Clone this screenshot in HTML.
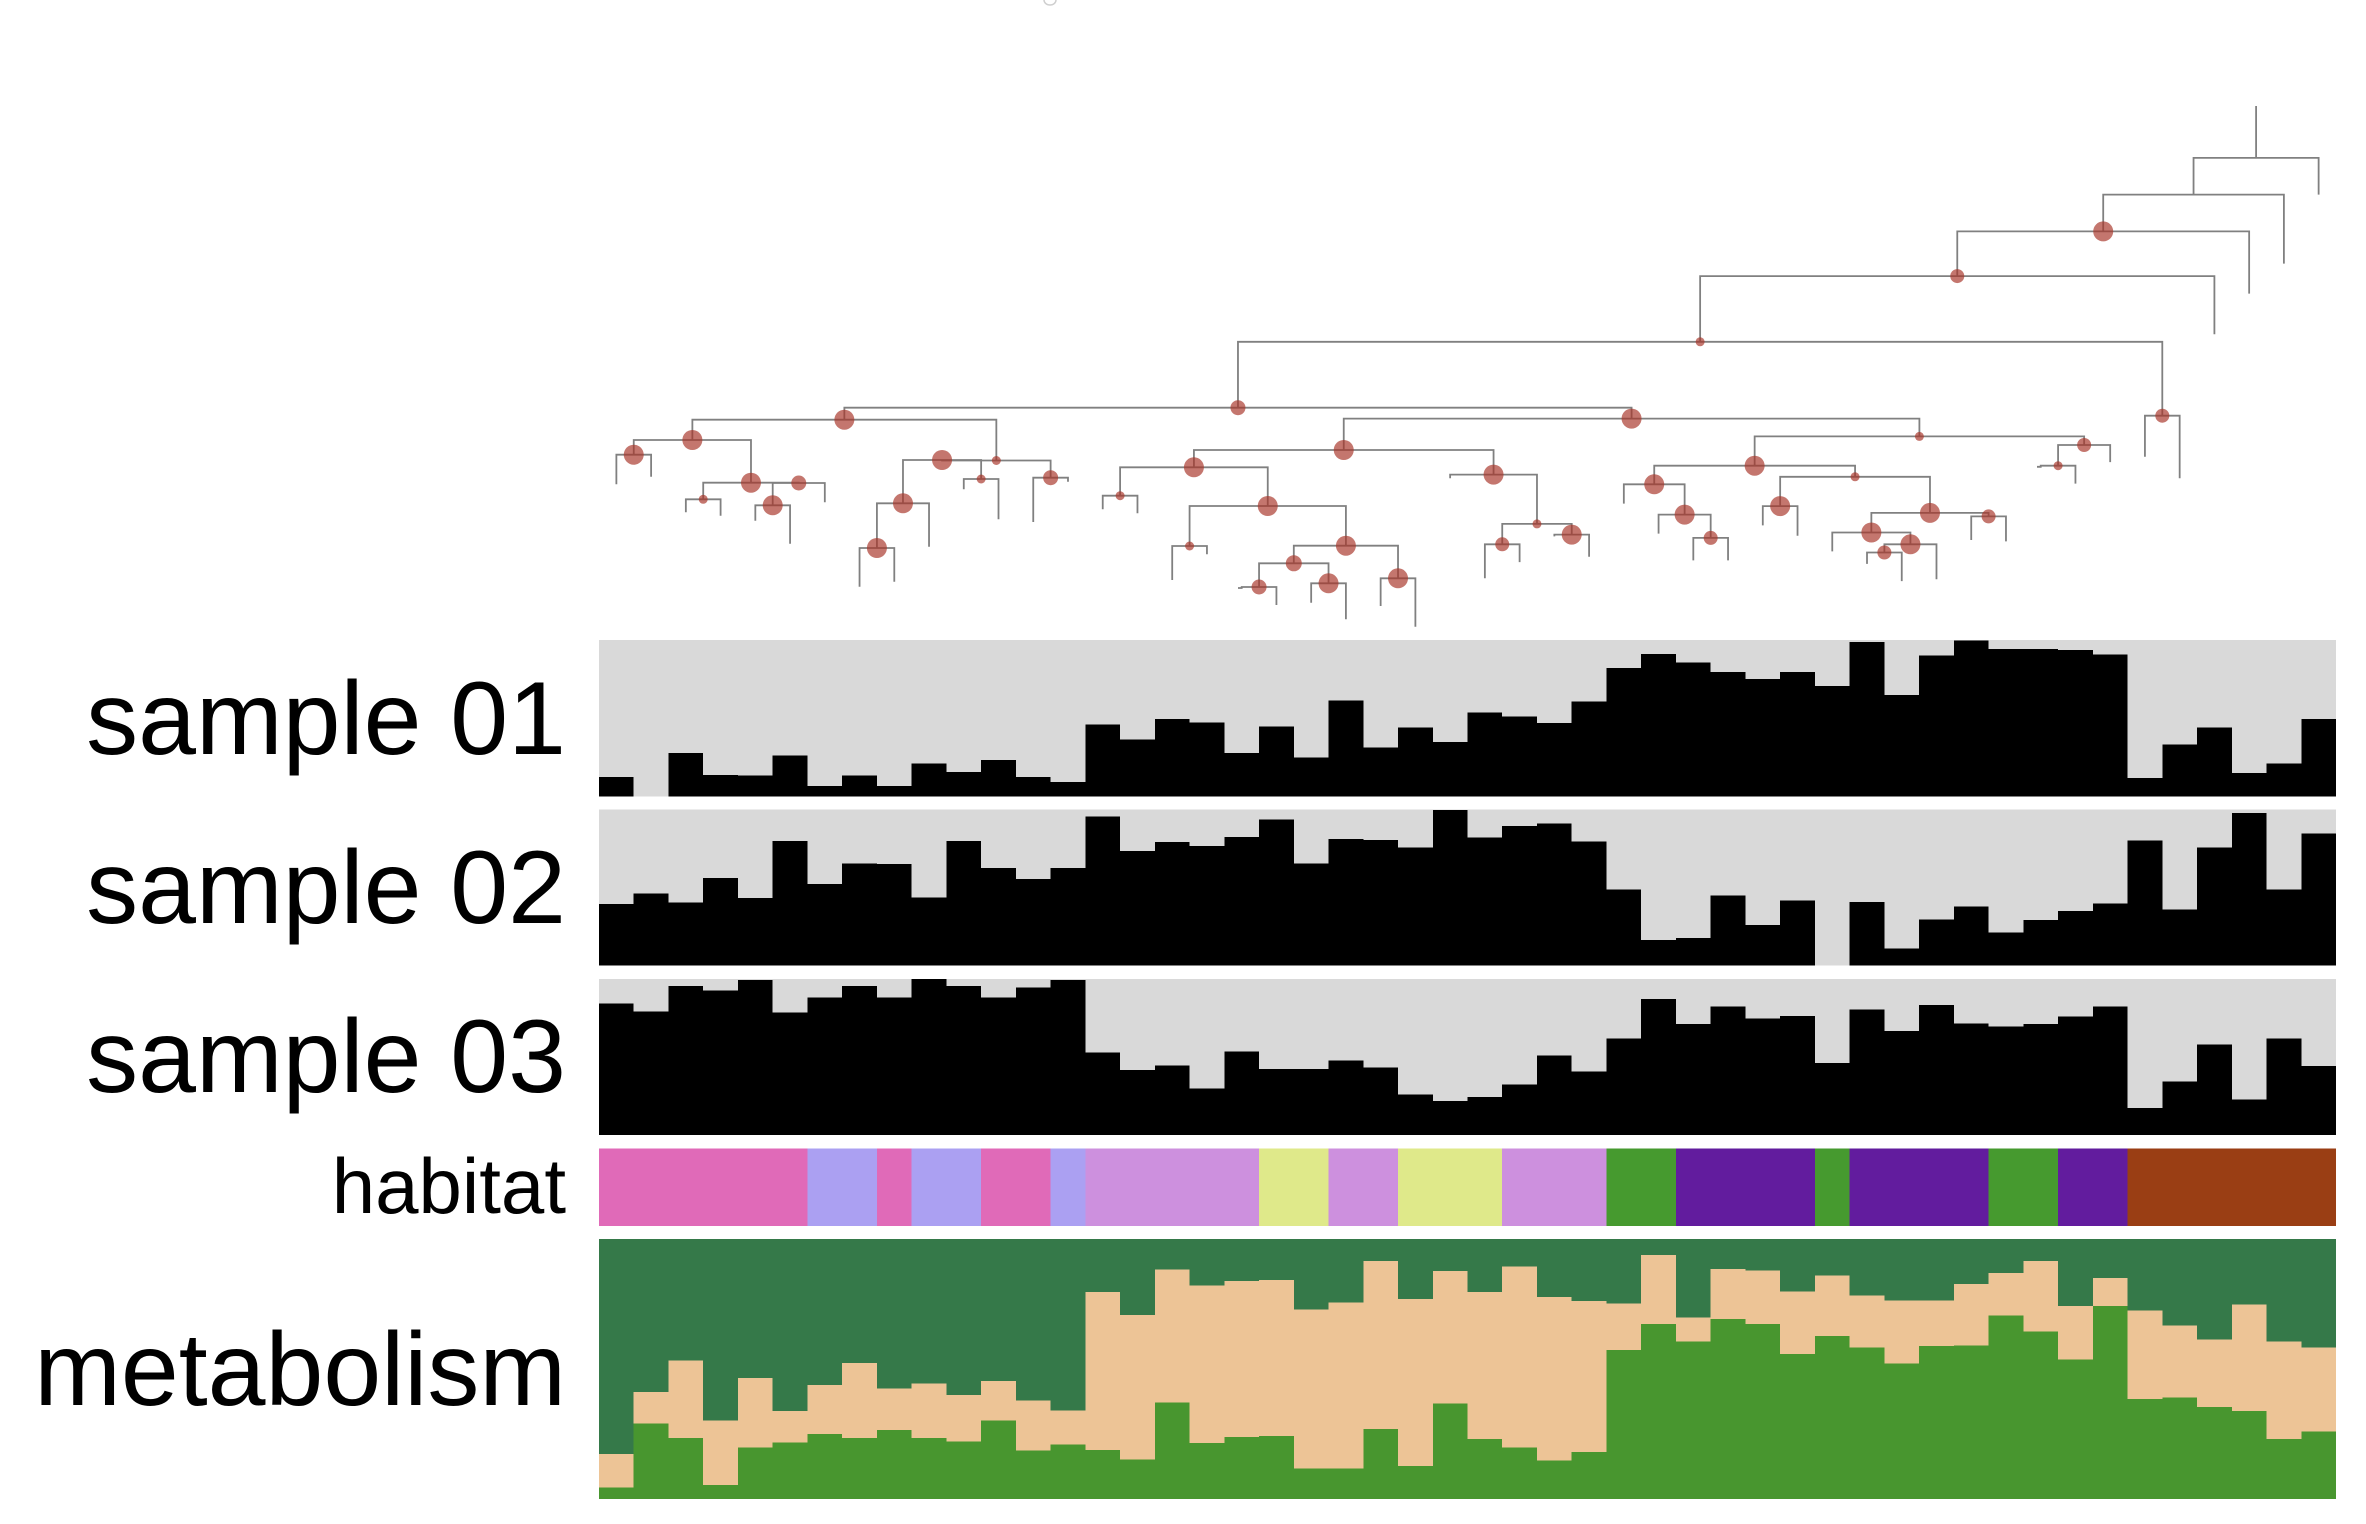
<!DOCTYPE html>
<html><head><meta charset="utf-8"><style>
html,body{margin:0;padding:0;background:#fff;}
svg{display:block;}
text{font-family:"Liberation Sans",Arial,sans-serif;fill:#000;}
</style></head><body>
<svg width="2366" height="1524" viewBox="0 0 2366 1524" xmlns="http://www.w3.org/2000/svg">
<rect x="0" y="0" width="2366" height="1524" fill="#fff"/>
<path d="M1044 0 A6 5 0 0 0 1056 0" fill="none" stroke="#cfcfcf" stroke-width="1.5"/>
<g fill="none" stroke="#808080" stroke-width="1.8">
<path d="M616.37 484.3 V454.7 H651.11 V476.7 M685.85 512.3 V499.3 H720.59 V515.7 M755.33 520.7 V505.3 H790.07 V543.7 M772.70 505.3 V483 H824.81 V502.3 M703.22 499.3 V482.7 H798.76 V483 M633.74 454.7 V440 H750.99 V482.7 M859.55 586.7 V548 H894.29 V581.7 M876.92 548 V503.3 H929.03 V546.7 M963.77 489.3 V479 H998.51 V519.3 M902.98 503.3 V460 H981.14 V479 M1033.25 522 V477.7 H1067.99 V481.7 M942.06 460 V460.5 H1050.62 V477.7 M692.37 440 V419.7 H996.34 V460.5 M1102.73 509.3 V495.7 H1137.47 V513.3 M1172.21 580 V546 H1206.95 V554.3 M1238 588 H1241.69 V587 H1276.43 V605 M1311.17 602.7 V583.3 H1345.91 V619.3 M1259.06 587 V563.3 H1328.54 V583.3 M1380.65 606 V578.3 H1415.39 V626.7 M1293.80 563.3 V545.7 H1398.02 V578.3 M1189.58 546 V506 H1345.91 V545.7 M1120.10 495.7 V467.3 H1267.75 V506 M1484.87 578.2 V544.3 H1519.61 V562.1 M1554.35 536.4 V534.6 H1589.09 V556.8 M1502.24 544.3 V523.9 H1571.72 V534.6 M1450.13 478.2 V474.6 H1536.98 V523.9 M1193.92 467.3 V450 H1493.56 V474.6 M1693.31 560.4 V537.9 H1728.05 V560.4 M1658.57 533.6 V514.6 H1710.68 V537.9 M1623.83 503.6 V484.3 H1684.63 V514.6 M1762.79 525.4 V506.1 H1797.53 V535.7 M1867.01 563.9 V552.5 H1901.75 V581.1 M1884.38 552.5 V544.3 H1936.49 V579.3 M1832.27 551.4 V532.5 H1910.44 V544.3 M1971.23 540 V516.4 H2005.97 V541.4 M1871.36 532.5 V512.9 H1988.60 V516.4 M1780.16 506.1 V476.8 H1929.98 V512.9 M1654.23 484.3 V465.7 H1855.07 V476.8 M2037 466.8 H2040.71 V465.7 H2075.45 V483.6 M2058.08 465.7 V445 H2110.19 V462.1 M1754.65 465.7 V436.4 H2084.14 V445 M1343.74 450 V418.6 H1919.40 V436.4 M844.36 419.7 V407.7 H1631.57 V418.6 M2144.93 456.8 V415.7 H2179.67 V478.2 M1237.97 407.7 V341.8 H2162.30 V415.7 M1700.13 341.8 V276.1 H2214.41 V334.3 M1957.27 276.1 V231.4 H2249.15 V293.6 M2103.21 231.4 V194.6 H2283.89 V263.6 M2193.55 194.6 V157.9 H2318.63 V194.6 M2256.09 157.9 V106"/>
</g>
<g fill="#a8352a" fill-opacity="0.68">
<circle cx="633.74" cy="454.7" r="10"/>
<circle cx="703.22" cy="499.3" r="4.5"/>
<circle cx="772.70" cy="505.3" r="10"/>
<circle cx="798.76" cy="483" r="7.5"/>
<circle cx="750.99" cy="482.7" r="10"/>
<circle cx="692.37" cy="440" r="10"/>
<circle cx="876.92" cy="548" r="10"/>
<circle cx="902.98" cy="503.3" r="10"/>
<circle cx="981.14" cy="479" r="4.5"/>
<circle cx="942.06" cy="460" r="10"/>
<circle cx="1050.62" cy="477.7" r="7.5"/>
<circle cx="996.34" cy="460.5" r="4.5"/>
<circle cx="844.36" cy="419.7" r="10"/>
<circle cx="1120.10" cy="495.7" r="4.5"/>
<circle cx="1189.58" cy="546" r="4.5"/>
<circle cx="1259.06" cy="587" r="7.5"/>
<circle cx="1328.54" cy="583.3" r="10"/>
<circle cx="1293.80" cy="563.3" r="8"/>
<circle cx="1398.02" cy="578.3" r="10"/>
<circle cx="1345.91" cy="545.7" r="10"/>
<circle cx="1267.75" cy="506" r="10"/>
<circle cx="1193.92" cy="467.3" r="10"/>
<circle cx="1502.24" cy="544.3" r="7"/>
<circle cx="1571.72" cy="534.6" r="10"/>
<circle cx="1536.98" cy="523.9" r="4.5"/>
<circle cx="1493.56" cy="474.6" r="10"/>
<circle cx="1343.74" cy="450" r="10"/>
<circle cx="1710.68" cy="537.9" r="7"/>
<circle cx="1684.63" cy="514.6" r="10"/>
<circle cx="1654.23" cy="484.3" r="10"/>
<circle cx="1780.16" cy="506.1" r="10"/>
<circle cx="1884.38" cy="552.5" r="7"/>
<circle cx="1910.44" cy="544.3" r="10"/>
<circle cx="1871.36" cy="532.5" r="10"/>
<circle cx="1988.60" cy="516.4" r="7"/>
<circle cx="1929.98" cy="512.9" r="10"/>
<circle cx="1855.07" cy="476.8" r="4.5"/>
<circle cx="1754.65" cy="465.7" r="10"/>
<circle cx="2058.08" cy="465.7" r="4.5"/>
<circle cx="2084.14" cy="445" r="7"/>
<circle cx="1919.40" cy="436.4" r="4.5"/>
<circle cx="1631.57" cy="418.6" r="10"/>
<circle cx="1237.97" cy="407.7" r="7.5"/>
<circle cx="2162.30" cy="415.7" r="7"/>
<circle cx="1700.13" cy="341.8" r="4.5"/>
<circle cx="1957.27" cy="276.1" r="7"/>
<circle cx="2103.21" cy="231.4" r="10"/>
</g>
<g transform="translate(599 630) scale(34.74 0.561167)" shape-rendering="crispEdges">
<rect x="0" y="18" width="50" height="279" fill="#d9d9d9"/>
<rect x="0" y="320" width="50" height="278" fill="#d9d9d9"/>
<rect x="0" y="622" width="50" height="278" fill="#d9d9d9"/>
<path fill="#000" d="M0 297 V262 H1 V297 H2 V219 H3 V258 H4 V259 H5 V224 H6 V278 H7 V259 H8 V278 H9 V238 H10 V253 H11 V232 H12 V262 H13 V271 H14 V168 H15 V195 H16 V159 H17 V165 H18 V219 H19 V172 H20 V227 H21 V126 H22 V209 H23 V174 H24 V200 H25 V147 H26 V154 H27 V166 H28 V127 H29 V68 H30 V43 H31 V58 H32 V75 H33 V87 H34 V75 H35 V100 H36 V21 H37 V116 H38 V45 H39 V19 H40 V34 H41 V34 H42 V36 H43 V44 H44 V264 H45 V204 H46 V174 H47 V255 H48 V238 H49 V159 H50 V297 Z"/>
<path fill="#000" d="M0 598 V488 H1 V470 H2 V486 H3 V442 H4 V478 H5 V376 H6 V453 H7 V416 H8 V417 H9 V477 H10 V376 H11 V424 H12 V444 H13 V424 H14 V332 H15 V394 H16 V378 H17 V385 H18 V369 H19 V338 H20 V416 H21 V372 H22 V374 H23 V388 H24 V321 H25 V370 H26 V349 H27 V345 H28 V377 H29 V462 H30 V552 H31 V549 H32 V473 H33 V526 H34 V482 H35 V598 H36 V485 H37 V568 H38 V516 H39 V493 H40 V539 H41 V517 H42 V501 H43 V487 H44 V375 H45 V498 H46 V388 H47 V326 H48 V462 H49 V363 H50 V598 Z"/>
<path fill="#000" d="M0 900 V666 H1 V680 H2 V634 H3 V642 H4 V624 H5 V682 H6 V655 H7 V634 H8 V655 H9 V622 H10 V634 H11 V655 H12 V637 H13 V624 H14 V753 H15 V784 H16 V776 H17 V817 H18 V751 H19 V782 H20 V782 H21 V767 H22 V780 H23 V828 H24 V839 H25 V832 H26 V810 H27 V758 H28 V787 H29 V728 H30 V658 H31 V702 H32 V671 H33 V692 H34 V688 H35 V772 H36 V676 H37 V715 H38 V668 H39 V701 H40 V707 H41 V702 H42 V689 H43 V671 H44 V852 H45 V805 H46 V739 H47 V837 H48 V728 H49 V777 H50 V900 Z"/>
<rect x="0" y="924" width="6" height="138" fill="#e06ab8"/>
<rect x="6" y="924" width="2" height="138" fill="#aba0f2"/>
<rect x="8" y="924" width="1" height="138" fill="#e06ab8"/>
<rect x="9" y="924" width="2" height="138" fill="#aba0f2"/>
<rect x="11" y="924" width="2" height="138" fill="#e06ab8"/>
<rect x="13" y="924" width="1" height="138" fill="#aba0f2"/>
<rect x="14" y="924" width="5" height="138" fill="#cd90de"/>
<rect x="19" y="924" width="2" height="138" fill="#dfe98a"/>
<rect x="21" y="924" width="2" height="138" fill="#cd90de"/>
<rect x="23" y="924" width="3" height="138" fill="#dfe98a"/>
<rect x="26" y="924" width="3" height="138" fill="#cd90de"/>
<rect x="29" y="924" width="2" height="138" fill="#469a2f"/>
<rect x="31" y="924" width="4" height="138" fill="#621c9e"/>
<rect x="35" y="924" width="1" height="138" fill="#469a2f"/>
<rect x="36" y="924" width="4" height="138" fill="#621c9e"/>
<rect x="40" y="924" width="2" height="138" fill="#469a2f"/>
<rect x="42" y="924" width="2" height="138" fill="#621c9e"/>
<rect x="44" y="924" width="6" height="138" fill="#9a3e14"/>
<rect x="0" y="1085" width="50" height="464" fill="#357949"/>
<path fill="#edc496" d="M0 1549 V1468 H1 V1358 H2 V1302 H3 V1409 H4 V1333 H5 V1392 H6 V1345 H7 V1306 H8 V1352 H9 V1343 H10 V1363 H11 V1338 H12 V1373 H13 V1391 H14 V1180 H15 V1221 H16 V1140 H17 V1168 H18 V1160 H19 V1158 H20 V1211 H21 V1198 H22 V1124 H23 V1192 H24 V1142 H25 V1180 H26 V1134 H27 V1189 H28 V1196 H29 V1200 H30 V1114 H31 V1225 H32 V1139 H33 V1141 H34 V1179 H35 V1150 H36 V1186 H37 V1195 H38 V1195 H39 V1165 H40 V1146 H41 V1124 H42 V1205 H43 V1155 H44 V1213 H45 V1239 H46 V1264 H47 V1202 H48 V1268 H49 V1279 H50 V1549 Z"/>
<path fill="#48962f" d="M0 1549 V1528 H1 V1414 H2 V1440 H3 V1524 H4 V1457 H5 V1448 H6 V1433 H7 V1440 H8 V1426 H9 V1440 H10 V1446 H11 V1409 H12 V1462 H13 V1451 H14 V1461 H15 V1478 H16 V1377 H17 V1449 H18 V1438 H19 V1436 H20 V1494 H21 V1494 H22 V1424 H23 V1490 H24 V1378 H25 V1442 H26 V1457 H27 V1480 H28 V1465 H29 V1283 H30 V1237 H31 V1268 H32 V1228 H33 V1237 H34 V1290 H35 V1258 H36 V1279 H37 V1307 H38 V1276 H39 V1275 H40 V1222 H41 V1250 H42 V1300 H43 V1205 H44 V1370 H45 V1368 H46 V1385 H47 V1392 H48 V1442 H49 V1428 H50 V1549 Z"/>
</g>
<text x="566" y="754" font-size="104" text-anchor="end">sample 01</text>
<text x="566" y="923" font-size="104" text-anchor="end">sample 02</text>
<text x="566" y="1092" font-size="104" text-anchor="end">sample 03</text>
<text x="566" y="1213" font-size="78" text-anchor="end">habitat</text>
<text x="566" y="1405" font-size="104" text-anchor="end">metabolism</text>
</svg>
</body></html>
